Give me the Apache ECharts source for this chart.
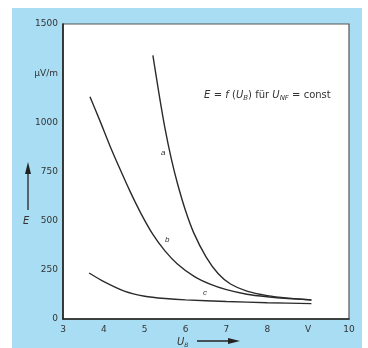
<!DOCTYPE html>
<html>
<head>
<meta charset="utf-8">
<script src="https://cdn.jsdelivr.net/npm/echarts@6/dist/echarts.min.js"></script>
<style>
html,body{margin:0;padding:0;background:#fff;}
#c{width:368px;height:348px;}
</style>
</head>
<body>
<div id="c"></div>
<script>
// Data
const curveA = [[5.2,1340],[5.35,1145],[5.5,965],[5.65,815],[5.8,690],[6.0,550],[6.2,438],[6.5,316],[6.8,230],[7.1,178],[7.5,142],[8.0,119],[8.5,106],[9.08,96]];
const curveB = [[3.66,1130],[3.9,1010],[4.15,880],[4.4,760],[4.65,645],[4.9,540],[5.2,430],[5.5,345],[5.8,280],[6.2,218],[6.6,177],[7.0,149],[7.5,126],[8.0,113],[8.5,104],[9.08,97]];
const curveC = [[3.64,234],[4.0,190],[4.5,142],[5.0,116],[5.5,104],[6.0,97],[7.0,89],[8.0,83],[9.08,78]];
const xTickLabels = {3:'3',4:'4',5:'5',6:'6',7:'7',8:'8',9:'V',10:'10'};
const yTickLabels = {0:'0',250:'250',500:'500',750:'750',1000:'1000',1250:'µV/m',1500:'1500'};
const curveNames = ['a','b','c'];

const chart = echarts.init(document.getElementById('c'));
const ink = '#2b2b2b';
const lineStyle = {color: ink, width: 1.4};
chart.setOption({
  animation: false,
  backgroundColor: 'transparent',
  grid: {left: 63, top: 24, right: 19, bottom: 29, show: true, backgroundColor: '#fff', borderColor: '#555', borderWidth: 1.2},
  xAxis: {
    type: 'value', min: 3, max: 10, interval: 1,
    axisLine: {show: true, lineStyle: {color: '#222', width: 1.6}},
    axisTick: {show: false},
    splitLine: {show: false},
    axisLabel: {color: '#333', fontSize: 9, fontFamily: 'DejaVu Sans', margin: 6, formatter: v => xTickLabels[v] ?? ''}
  },
  yAxis: {
    type: 'value', min: 0, max: 1500, interval: 250,
    axisLine: {show: true, lineStyle: {color: '#222', width: 1.6}},
    axisTick: {show: false},
    splitLine: {show: false},
    axisLabel: {color: '#333', fontSize: 9, fontFamily: 'DejaVu Sans', margin: 5, formatter: v => yTickLabels[v] ?? ''}
  },
  series: [curveA, curveB, curveC].map((d, i) => ({
    name: curveNames[i], type: 'line', data: d, smooth: 0.25, symbol: 'none', lineStyle: lineStyle
  })),
  graphic: [
    {type: 'rect', z: -10, shape: {x: 12, y: 8, width: 350, height: 340}, style: {fill: '#a9ddf3'}},
    {type: 'text', left: 204, top: 89, z: 10, style: {
      rich: {
        i: {fontStyle: 'italic', fontSize: 10, fill: '#333', fontFamily: 'DejaVu Sans'},
        n: {fontSize: 10, fill: '#333', fontFamily: 'DejaVu Sans'},
        s: {fontStyle: 'italic', fontSize: 7, fill: '#333', fontFamily: 'DejaVu Sans', padding: [6, 0, 0, 0]}
      },
      text: '{i|E} {n|= }{i|f} {n|(}{i|U}{s|B}{n|) für }{i|U}{s|NF}{n| = const}'
    }},
    {type: 'text', left: 161, top: 149, z: 10, style: {text: 'a', fontStyle: 'italic', fontSize: 8, fill: '#333'}},
    {type: 'text', left: 165, top: 236, z: 10, style: {text: 'b', fontStyle: 'italic', fontSize: 8, fill: '#333'}},
    {type: 'text', left: 203, top: 289, z: 10, style: {text: 'c', fontStyle: 'italic', fontSize: 8, fill: '#333'}},
    // y axis name with arrow
    {type: 'line', shape: {x1: 28, y1: 210, x2: 28, y2: 170}, style: {stroke: '#222', lineWidth: 1.3}},
    {type: 'polygon', shape: {points: [[28, 162], [25, 174], [31, 174]]}, style: {fill: '#222'}},
    {type: 'text', left: 23, top: 216, style: {text: 'E', fontStyle: 'italic', fontSize: 10, fill: '#333', fontFamily: 'DejaVu Sans'}},
    // x axis name with arrow
    {type: 'text', left: 177, top: 337, style: {
      rich: {
        i: {fontStyle: 'italic', fontSize: 10, fill: '#333', fontFamily: 'DejaVu Sans'},
        s: {fontStyle: 'italic', fontSize: 6, fill: '#333', fontFamily: 'DejaVu Sans', padding: [6, 0, 0, 0]}
      },
      text: '{i|U}{s|B}'
    }},
    {type: 'line', shape: {x1: 197, y1: 341, x2: 230, y2: 341}, style: {stroke: '#222', lineWidth: 1.3}},
    {type: 'polygon', shape: {points: [[240, 341], [228, 338], [228, 344]]}, style: {fill: '#222'}}
  ]
});
</script>
</body>
</html>
